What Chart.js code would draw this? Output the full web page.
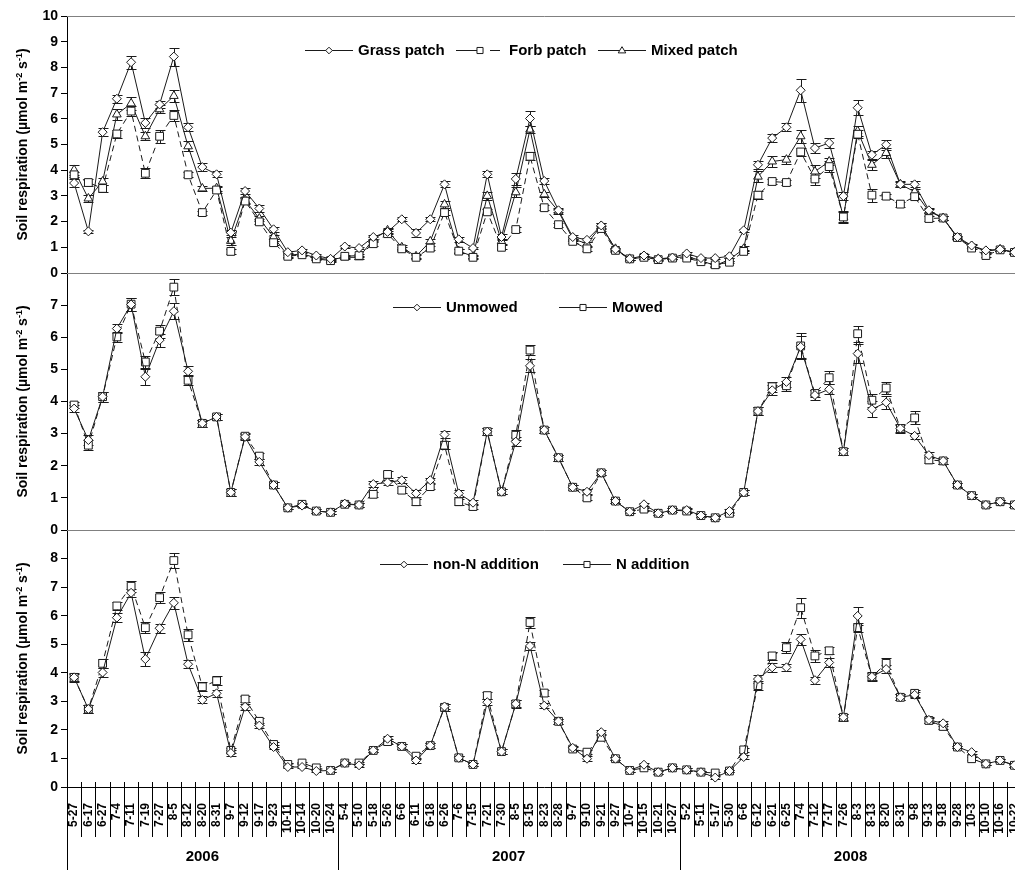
<!DOCTYPE html>
<html>
<head>
<meta charset="utf-8">
<script src="https://cdn.jsdelivr.net/npm/chart.js@4.4.0/dist/chart.umd.min.js"></script>
<style>
  html, body { margin: 0; padding: 0; background: #fff; overflow: hidden; }
  #wrap { position: relative; width: 1028px; height: 870px; }
</style>
</head>
<body>
<div id="wrap"><canvas id="c" width="1028" height="870"></canvas></div>
<script>
// sampling dates (month-day) per year
const dates2006 = ['5-27','6-17','6-27','7-4','7-11','7-19','7-27','8-5','8-12','8-20','8-31','9-7','9-12','9-17','9-23','10-11','10-14','10-20','10-24'];
const dates2007 = ['5-4','5-10','5-18','5-26','6-6','6-11','6-18','6-26','7-6','7-15','7-21','7-30','8-5','8-15','8-23','8-28','9-7','9-10','9-21','9-27','10-7','10-15','10-21','10-27'];
const dates2008 = ['5-2','5-11','5-17','5-30','6-6','6-12','6-21','6-25','7-4','7-12','7-17','7-26','8-3','8-13','8-20','8-31','9-8','9-13','9-18','9-28','10-3','10-10','10-16','10-22'];
const years = ['2006', '2007', '2008'];

// y-axis ranges of the three panels
const panelMax = [10, 8, 9];

// panel 1 : patch types
const grass = [3.5,1.62,5.48,6.78,8.2,5.84,6.56,8.42,5.67,4.12,3.84,1.57,3.19,2.51,1.7,0.81,0.88,0.68,0.55,
  1.03,0.97,1.4,1.6,2.09,1.56,2.09,3.45,1.31,0.97,3.84,1.4,3.66,6.01,3.58,2.44,1.4,1.29,1.85,0.92,0.55,0.68,0.55,0.6,
  0.76,0.58,0.58,0.65,1.66,4.21,5.25,5.67,7.11,4.86,5.06,2.99,6.43,4.6,4.99,3.45,3.45,2.44,2.14,1.4,1.07,0.88,0.92,0.81];
const forb = [3.82,3.52,3.29,5.41,6.3,3.88,5.32,6.13,3.82,2.35,3.23,0.84,2.8,1.99,1.18,0.65,0.71,0.55,0.48,
  0.65,0.68,1.14,1.53,0.94,0.61,0.97,2.35,0.85,0.61,2.38,1.0,1.69,4.54,2.54,1.88,1.23,0.94,1.73,0.88,0.55,0.61,0.52,0.58,
  0.58,0.44,0.32,0.42,0.84,3.03,3.56,3.52,4.71,3.66,4.14,2.18,5.4,3.03,2.99,2.68,2.97,2.12,2.14,1.38,0.97,0.68,0.9,0.8];
const mixed = [4.01,2.9,3.56,6.17,6.6,5.32,6.37,6.89,4.93,3.29,3.3,1.25,2.84,2.12,1.4,0.68,0.75,0.58,0.52,
  0.61,0.61,1.31,1.66,1.0,0.65,1.23,2.67,0.85,0.65,3.0,1.23,3.14,5.58,3.06,2.4,1.33,1.14,1.83,0.94,0.55,0.61,0.55,0.58,
  0.65,0.48,0.29,0.52,0.94,3.75,4.34,4.41,5.32,3.95,4.34,2.18,5.52,4.21,4.67,3.45,3.16,2.4,2.14,1.36,1.05,0.85,0.92,0.8];
const errGrass = [0.15,0.05,0.15,0.15,0.25,0.2,0.15,0.35,0.15,0.15,0.12,0.1,0.12,0.12,0.1,0.05,0.05,0.05,0.05,
  0.05,0.05,0.08,0.1,0.08,0.15,0.08,0.12,0.1,0.05,0.12,0.1,0.25,0.3,0.12,0.08,0.08,0.08,0.1,0.05,0.05,0.05,0.05,0.05,
  0.05,0.05,0.05,0.05,0.05,0.15,0.15,0.15,0.45,0.2,0.2,0.15,0.3,0.15,0.2,0.12,0.12,0.08,0.08,0.05,0.05,0.05,0.05,0.05];
const errForb = [0.1,0.12,0.12,0.15,0.2,0.2,0.25,0.2,0.1,0.08,0.12,0.1,0.1,0.1,0.08,0.05,0.05,0.05,0.05,
  0.05,0.05,0.08,0.1,0.08,0.08,0.08,0.1,0.08,0.05,0.1,0.08,0.1,0.15,0.1,0.08,0.08,0.08,0.08,0.05,0.05,0.05,0.05,0.05,
  0.05,0.05,0.05,0.05,0.05,0.15,0.1,0.1,0.15,0.25,0.2,0.25,0.15,0.25,0.1,0.1,0.1,0.08,0.08,0.05,0.05,0.05,0.05,0.05];
const errMixed = [0.2,0.15,0.15,0.2,0.25,0.15,0.15,0.25,0.2,0.1,0.1,0.15,0.1,0.1,0.08,0.05,0.05,0.05,0.05,
  0.05,0.05,0.08,0.1,0.1,0.08,0.08,0.15,0.08,0.05,0.15,0.1,0.2,0.15,0.1,0.1,0.08,0.08,0.1,0.05,0.05,0.05,0.05,0.05,
  0.05,0.05,0.05,0.05,0.1,0.2,0.2,0.15,0.25,0.25,0.15,0.2,0.2,0.2,0.2,0.1,0.1,0.08,0.08,0.05,0.05,0.05,0.05,0.05];

// panel 2 : mowing
const unmowed = [3.78,2.8,4.15,6.27,7.02,4.77,5.91,6.81,4.94,3.32,3.52,1.17,2.9,2.12,1.4,0.69,0.76,0.59,0.55,
  0.82,0.78,1.43,1.48,1.55,1.14,1.55,2.97,1.14,0.85,3.06,1.19,2.75,5.11,3.11,2.25,1.33,1.19,1.78,0.9,0.57,0.8,0.52,0.62,
  0.62,0.45,0.38,0.59,1.17,3.7,4.35,4.61,5.7,4.2,4.38,2.44,5.49,3.76,3.97,3.16,2.93,2.33,2.15,1.4,1.07,0.78,0.88,0.78];
const mowed = [3.89,2.64,4.15,6.01,7.03,5.23,6.19,7.56,4.66,3.32,3.52,1.17,2.92,2.3,1.4,0.69,0.8,0.59,0.55,
  0.8,0.78,1.11,1.73,1.24,0.88,1.35,2.64,0.88,0.73,3.06,1.19,2.95,5.6,3.11,2.25,1.33,1.0,1.78,0.9,0.57,0.65,0.52,0.62,
  0.59,0.45,0.38,0.52,1.17,3.7,4.46,4.49,5.73,4.25,4.74,2.44,6.11,4.04,4.42,3.16,3.49,2.18,2.15,1.4,1.07,0.78,0.88,0.78];
const errUnmowed = [0.1,0.15,0.15,0.15,0.2,0.25,0.2,0.25,0.15,0.1,0.1,0.1,0.1,0.1,0.08,0.05,0.05,0.05,0.05,
  0.05,0.05,0.1,0.08,0.1,0.1,0.08,0.12,0.1,0.08,0.1,0.08,0.15,0.2,0.1,0.1,0.08,0.08,0.08,0.05,0.05,0.05,0.05,0.05,
  0.05,0.05,0.05,0.05,0.08,0.12,0.15,0.15,0.35,0.15,0.15,0.1,0.3,0.25,0.2,0.15,0.1,0.1,0.08,0.05,0.05,0.05,0.05,0.05];
const errMowed = [0.1,0.15,0.15,0.15,0.2,0.2,0.2,0.25,0.15,0.1,0.1,0.1,0.1,0.1,0.08,0.05,0.05,0.05,0.05,
  0.05,0.05,0.08,0.12,0.1,0.1,0.08,0.12,0.1,0.08,0.1,0.08,0.15,0.15,0.1,0.1,0.08,0.08,0.08,0.05,0.05,0.05,0.05,0.05,
  0.05,0.05,0.05,0.05,0.08,0.12,0.15,0.15,0.4,0.12,0.2,0.12,0.25,0.2,0.2,0.12,0.2,0.1,0.08,0.05,0.05,0.05,0.05,0.05];

// panel 3 : nitrogen addition
const nonN = [3.84,2.73,4.01,5.93,6.8,4.48,5.56,6.45,4.3,3.05,3.28,1.19,2.81,2.15,1.4,0.7,0.7,0.56,0.58,
  0.84,0.76,1.28,1.69,1.42,0.93,1.45,2.82,1.02,0.79,2.97,1.24,2.91,4.94,2.85,2.3,1.37,0.99,1.92,0.99,0.58,0.78,0.52,0.67,
  0.6,0.52,0.33,0.56,1.05,3.78,4.19,4.19,5.17,3.74,4.36,2.44,5.99,3.86,4.13,3.14,3.23,2.35,2.23,1.4,1.22,0.81,0.93,0.76];
const addN = [3.84,2.73,4.33,6.34,7.03,5.58,6.63,7.93,5.33,3.51,3.72,1.28,3.08,2.3,1.49,0.79,0.84,0.67,0.58,
  0.84,0.84,1.28,1.59,1.42,1.08,1.45,2.79,1.02,0.79,3.2,1.24,2.91,5.76,3.29,2.3,1.33,1.22,1.74,0.99,0.58,0.67,0.52,0.67,
  0.6,0.52,0.49,0.56,1.3,3.55,4.59,4.88,6.28,4.59,4.77,2.44,5.58,3.86,4.33,3.14,3.28,2.33,2.12,1.4,0.99,0.81,0.93,0.76];
const errNonN = [0.15,0.15,0.15,0.15,0.15,0.25,0.15,0.2,0.15,0.12,0.12,0.1,0.1,0.1,0.08,0.05,0.05,0.05,0.05,
  0.05,0.05,0.05,0.08,0.1,0.1,0.08,0.1,0.08,0.05,0.1,0.08,0.12,0.15,0.1,0.08,0.08,0.08,0.08,0.05,0.05,0.05,0.05,0.05,
  0.05,0.05,0.05,0.05,0.08,0.15,0.15,0.12,0.2,0.12,0.15,0.1,0.3,0.12,0.15,0.1,0.1,0.1,0.08,0.05,0.05,0.05,0.05,0.05];
const errN = [0.12,0.15,0.15,0.15,0.2,0.2,0.2,0.25,0.2,0.15,0.15,0.1,0.12,0.12,0.1,0.05,0.05,0.05,0.05,
  0.05,0.05,0.05,0.08,0.1,0.1,0.08,0.12,0.08,0.05,0.12,0.08,0.15,0.2,0.12,0.08,0.08,0.08,0.08,0.05,0.05,0.05,0.05,0.05,
  0.05,0.05,0.05,0.05,0.08,0.15,0.15,0.2,0.35,0.2,0.12,0.12,0.15,0.15,0.2,0.1,0.12,0.1,0.08,0.05,0.05,0.05,0.05,0.05];

const dates = dates2006.concat(dates2007, dates2008);
const yearCounts = [dates2006.length, dates2007.length, dates2008.length];

const FONT = '"Liberation Sans", Arial, Helvetica, sans-serif';
const INK = '#1a1a1a';

// one line dataset
function series(label, data, errors, axis, style, radius, dash) {
  return {
    label: label,
    data: data,
    errors: errors,
    yAxisID: axis,
    borderColor: INK,
    borderWidth: 1,
    borderDash: dash,
    tension: 0,
    fill: false,
    pointStyle: style,
    pointRadius: radius,
    pointBackgroundColor: '#fff',
    pointBorderColor: INK,
    pointBorderWidth: 1
  };
}

// y scale of one panel
function panelAxis(max, order) {
  return {
    type: 'linear',
    position: 'left',
    stack: 'panels',
    stackWeight: 1,
    weight: order,
    min: 0,
    max: max,
    ticks: {
      stepSize: 1,
      autoSkip: false,
      color: '#000',
      padding: 3,
      font: { family: FONT, size: 14, weight: 'bold' },
      // the top value is hidden except in the first panel
      callback: function (v) { return (v === max && max !== panelMax[0]) ? '' : v; }
    },
    grid: { drawOnChartArea: false, drawTicks: true, tickLength: 6, color: '#000' },
    border: { color: '#000', width: 1 },
    afterFit: function (s) { s.width = 67; }
  };
}

// legend layout: start x of each entry
const legendPos = { yA: [305, 456, 598], yB: [393, 559], yC: [380, 563] };

function drawMarker(ctx, style, x, y, r) {
  ctx.beginPath();
  if (style === 'rectRot') {
    ctx.moveTo(x, y - r); ctx.lineTo(x + r, y); ctx.lineTo(x, y + r); ctx.lineTo(x - r, y);
  } else if (style === 'rect') {
    const s = r * Math.SQRT1_2;
    ctx.rect(x - s, y - s, 2 * s, 2 * s);
  } else {
    const w = r * Math.sqrt(3);
    ctx.moveTo(x, y - r); ctx.lineTo(x + w / 2 + 0.5, y + r / 2 + 0.5); ctx.lineTo(x - w / 2 - 0.5, y + r / 2 + 0.5);
  }
  ctx.closePath();
  ctx.fill();
  ctx.stroke();
}

const decor = {
  id: 'decor',
  beforeDatasetsDraw(chart) {
    // error bars (behind the markers)
    const ctx = chart.ctx;
    ctx.save();
    ctx.strokeStyle = INK;
    ctx.lineWidth = 1;
    chart.data.datasets.forEach(function (ds, di) {
      const meta = chart.getDatasetMeta(di);
      const ys = chart.scales[ds.yAxisID];
      meta.data.forEach(function (pt, i) {
        const v = ds.data[i], e = ds.errors[i];
        const x = Math.round(pt.x) + 0.5;
        const y1 = Math.round(ys.getPixelForValue(v + e)) + 0.5;
        const y2 = Math.round(ys.getPixelForValue(Math.max(v - e, 0))) + 0.5;
        ctx.beginPath();
        ctx.moveTo(x, y1); ctx.lineTo(x, y2);
        ctx.moveTo(x - 5, y1); ctx.lineTo(x + 5, y1);
        ctx.moveTo(x - 5, y2); ctx.lineTo(x + 5, y2);
        ctx.stroke();
      });
    });
    ctx.restore();
  },
  afterDraw(chart) {
    const ctx = chart.ctx;
    const area = chart.chartArea;
    const n = dates.length;
    const step = (area.right - area.left) / n;
    const bottomY = area.bottom;
    const H = chart.height;
    ctx.save();

    // panel frame lines
    ctx.strokeStyle = '#808080';
    ctx.lineWidth = 1;
    ['yA', 'yB'].forEach(function (id) {
      const s = chart.scales[id];
      ctx.beginPath();
      ctx.moveTo(area.left, Math.round(s.bottom) + 0.5);
      ctx.lineTo(area.right, Math.round(s.bottom) + 0.5);
      ctx.stroke();
    });
    ctx.beginPath();
    ctx.moveTo(area.left, Math.round(area.top) + 0.5);
    ctx.lineTo(area.right, Math.round(area.top) + 0.5);
    ctx.stroke();

    // category boundaries: small inner ticks and separators between labels
    ctx.strokeStyle = '#000';
    const yearStarts = [0];
    let acc = 0;
    yearCounts.forEach(function (c) { acc += c; yearStarts.push(acc); });
    for (let i = 0; i <= n; i++) {
      const x = Math.round(area.left + i * step) + 0.5;
      const isYear = yearStarts.indexOf(i) >= 0;
      ctx.beginPath();
      ctx.moveTo(x, bottomY - 5);
      ctx.lineTo(x, isYear ? H : bottomY + 50);
      ctx.stroke();
    }

    // year labels
    ctx.fillStyle = '#000';
    ctx.font = 'bold 15px ' + FONT;
    ctx.textAlign = 'center';
    ctx.textBaseline = 'middle';
    years.forEach(function (y, k) {
      const cx = area.left + (yearStarts[k] + yearStarts[k + 1]) / 2 * step;
      ctx.fillText(y, cx, bottomY + 70);
    });

    // y axis titles with superscripts
    ['yA', 'yB', 'yC'].forEach(function (id) {
      const s = chart.scales[id];
      const parts = [
        ['Soil respiration (\u00b5mol m', false],
        ['-2', true],
        [' s', false],
        ['-1', true],
        [')', false]
      ];
      const big = 'bold 14px ' + FONT, small = 'bold 9px ' + FONT;
      let total = 0;
      parts.forEach(function (p) { ctx.font = p[1] ? small : big; total += ctx.measureText(p[0]).width; });
      ctx.save();
      ctx.translate(22, (s.top + s.bottom) / 2);
      ctx.rotate(-Math.PI / 2);
      ctx.textAlign = 'left';
      ctx.textBaseline = 'alphabetic';
      let px = -total / 2;
      parts.forEach(function (p) {
        ctx.font = p[1] ? small : big;
        ctx.fillText(p[0], px, p[1] ? 0 : 5);
        px += ctx.measureText(p[0]).width;
      });
      ctx.restore();
    });

    // legends with line + marker samples
    ctx.font = 'bold 15px ' + FONT;
    ctx.textAlign = 'left';
    ctx.textBaseline = 'middle';
    ['yA', 'yB', 'yC'].forEach(function (id) {
      const s = chart.scales[id];
      const ly = Math.round(s.top + 34) + 0.5;
      const items = chart.data.datasets.filter(function (d) { return d.yAxisID === id; });
      items.forEach(function (ds, k) {
        const x0 = legendPos[id][k];
        ctx.strokeStyle = INK;
        ctx.lineWidth = 1;
        ctx.beginPath();
        if (id === 'yA' && ds.borderDash.length) {
          ctx.moveTo(x0, ly); ctx.lineTo(x0 + 22, ly);
          ctx.moveTo(x0 + 34, ly); ctx.lineTo(x0 + 44, ly);
        } else {
          ctx.moveTo(x0, ly); ctx.lineTo(x0 + 48, ly);
        }
        ctx.stroke();
        ctx.fillStyle = '#fff';
        drawMarker(ctx, ds.pointStyle, x0 + 24, ly, ds.pointRadius - 1.2);
        ctx.fillStyle = '#000';
        ctx.fillText(ds.label, x0 + 53, ly);
      });
    });
    ctx.restore();
  }
};

const chart = new Chart(document.getElementById('c'), {
  type: 'line',
  data: {
    labels: dates,
    datasets: [
      series('Grass patch', grass, errGrass, 'yA', 'rectRot', 4.5, []),
      series('Forb patch', forb, errForb, 'yA', 'rect', 5.5, [6, 4]),
      series('Mixed patch', mixed, errMixed, 'yA', 'triangle', 5, []),
      series('Unmowed', unmowed, errUnmowed, 'yB', 'rectRot', 4.5, []),
      series('Mowed', mowed, errMowed, 'yB', 'rect', 5.5, [6, 4]),
      series('non-N addition', nonN, errNonN, 'yC', 'rectRot', 4.5, []),
      series('N addition', addN, errN, 'yC', 'rect', 5.5, [6, 4])
    ]
  },
  options: {
    responsive: false,
    animation: false,
    devicePixelRatio: 1,
    layout: { padding: { top: 16, left: 0, right: 0, bottom: 0 } },
    plugins: {
      legend: { display: false },
      tooltip: { enabled: false }
    },
    scales: {
      x: {
        type: 'category',
        position: 'bottom',
        offset: true,
        grid: { display: false },
        border: { color: '#000', width: 1 },
        ticks: {
          autoSkip: false,
          maxRotation: 90,
          minRotation: 90,
          padding: 8,
          color: '#000',
          font: { family: FONT, size: 12, weight: 'bold' }
        },
        afterFit: function (s) { s.height = 83; s.paddingLeft = 0; s.paddingRight = 0; }
      },
      yA: panelAxis(panelMax[0], 3),
      yB: panelAxis(panelMax[1], 2),
      yC: panelAxis(panelMax[2], 1)
    }
  },
  plugins: [decor]
});
</script>
</body>
</html>
